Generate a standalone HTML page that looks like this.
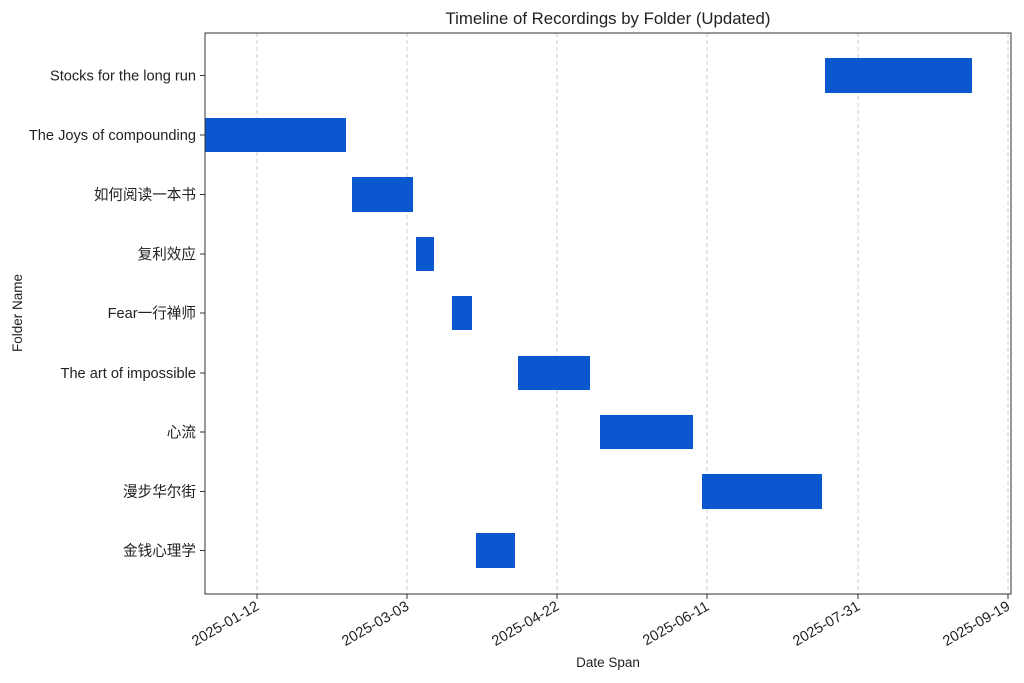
<!DOCTYPE html>
<html><head><meta charset="utf-8"><style>body{margin:0;background:#fff}svg{display:block}text{font-family:"Liberation Sans","Noto Sans CJK SC",sans-serif;fill:#222}</style></head><body>
<svg width="1024" height="683" viewBox="0 0 1024 683">
<g stroke="#ccc" stroke-dasharray="4,3" stroke-width="1">
<line x1="257" y1="33" x2="257" y2="594"/><line x1="407" y1="33" x2="407" y2="594"/><line x1="557" y1="33" x2="557" y2="594"/><line x1="707" y1="33" x2="707" y2="594"/><line x1="858" y1="33" x2="858" y2="594"/><line x1="1008" y1="33" x2="1008" y2="594"/>
</g>
<g fill="#0b57d0">
<rect x="825" y="58" width="147" height="35"/>
<rect x="205" y="118" width="141" height="34"/>
<rect x="352" y="177" width="61" height="35"/>
<rect x="416" y="237" width="18" height="34"/>
<rect x="452" y="296" width="20" height="34"/>
<rect x="518" y="356" width="72" height="34"/>
<rect x="600" y="415" width="93" height="34"/>
<rect x="702" y="474" width="120" height="35"/>
<rect x="476" y="533" width="39" height="35"/>
</g>
<rect x="205" y="33" width="806" height="561" fill="none" stroke="#333" stroke-width="1"/>
<g stroke="#333"><line x1="257" y1="594" x2="257" y2="599"/><line x1="407" y1="594" x2="407" y2="599"/><line x1="557" y1="594" x2="557" y2="599"/><line x1="707" y1="594" x2="707" y2="599"/><line x1="858" y1="594" x2="858" y2="599"/><line x1="1008" y1="594" x2="1008" y2="599"/>
<line x1="200" y1="75.5" x2="205" y2="75.5"/><line x1="200" y1="135" x2="205" y2="135"/><line x1="200" y1="194.5" x2="205" y2="194.5"/><line x1="200" y1="254" x2="205" y2="254"/><line x1="200" y1="313" x2="205" y2="313"/><line x1="200" y1="373" x2="205" y2="373"/><line x1="200" y1="432" x2="205" y2="432"/><line x1="200" y1="491.5" x2="205" y2="491.5"/><line x1="200" y1="550.5" x2="205" y2="550.5"/></g>
<g font-size="14.6" text-anchor="end">
<text x="196" y="80.5">Stocks for the long run</text>
<text x="196" y="140">The Joys of compounding</text>
<text x="196" y="199.5">如何阅读一本书</text>
<text x="196" y="259">复利效应</text>
<text x="196" y="318">Fear一行禅师</text>
<text x="196" y="378">The art of impossible</text>
<text x="196" y="437">心流</text>
<text x="196" y="496.5">漫步华尔街</text>
<text x="196" y="555.5">金钱心理学</text>
</g>
<g font-size="14.6" text-anchor="end">
<text transform="translate(260,609) rotate(-30)">2025-01-12</text>
<text transform="translate(410,609) rotate(-30)">2025-03-03</text>
<text transform="translate(560,609) rotate(-30)">2025-04-22</text>
<text transform="translate(710,609) rotate(-30)">2025-06-11</text>
<text transform="translate(861,609) rotate(-30)">2025-07-31</text>
<text transform="translate(1011,609) rotate(-30)">2025-09-19</text>
</g>
<text x="608" y="24" font-size="16.8" text-anchor="middle">Timeline of Recordings by Folder (Updated)</text>
<text x="608" y="667" font-size="13.5" text-anchor="middle">Date Span</text>
<text transform="translate(22,313) rotate(-90)" font-size="13.5" text-anchor="middle">Folder Name</text>
</svg>
</body></html>
